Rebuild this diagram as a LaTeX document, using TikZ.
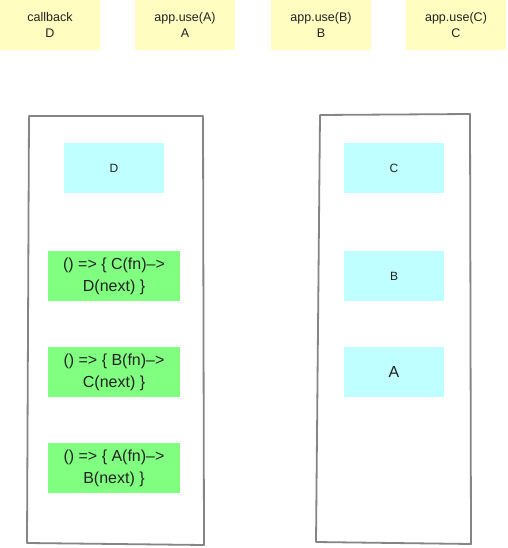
\documentclass[tikz,border=0pt]{standalone}
\usepackage{fontspec}
\setmainfont{Liberation Sans}
\definecolor{ylw}{HTML}{FFFEC0}
\definecolor{cyn}{HTML}{C0FFFF}
\definecolor{grn}{HTML}{80FF80}
\definecolor{frame}{HTML}{858585}
\definecolor{txt}{HTML}{222222}
\begin{document}
\begin{tikzpicture}[x=1pt,y=-1pt,
  topbox/.style={fill=ylw,draw=none,minimum width=100pt,minimum height=50pt,inner sep=0pt,align=center,
    font=\fontsize{12.5}{16}\selectfont,text=txt},
  cbox/.style={fill=cyn,draw=none,minimum width=100pt,minimum height=50pt,inner sep=0pt,align=center,
    font=\fontsize{12}{13}\selectfont,text=txt},
  gbox/.style={fill=grn,draw=none,minimum width=132pt,minimum height=50pt,inner sep=0pt,align=center,
    font=\fontsize{16}{22}\selectfont,text=txt},
  sketch/.style={draw=frame,line width=1.8pt,line join=round}]
\useasboundingbox (0,0) rectangle (507,548);
\fill[white] (0,0) rectangle (507,548);
% top row
\node[topbox] (t1) at (50,25) {callback\\D};
\node[topbox] (t2) at (185,25) {app.use(A)\\A};
\node[topbox] (t3) at (321,25) {app.use(B)\\B};
\node[topbox] (t4) at (456,25) {app.use(C)\\C};
% containers
\coordinate (l1) at (29,116); \coordinate (l2) at (203,116);
\coordinate (l3) at (204,545); \coordinate (l4) at (27,543);
\draw[sketch] (l1) -- (l2) -- (l3) -- (l4) -- cycle;
\coordinate (r1) at (320,115); \coordinate (r2) at (470,114);
\coordinate (r3) at (471,544); \coordinate (r4) at (316,542);
\draw[sketch] (r1) -- (r2) -- (r3) -- (r4) -- cycle;
% left stack
\node[cbox] (d) at (114,168) {D};
\node[gbox] (g1) at (114,276) {() => \{ C(fn)–>\\D(next) \}};
\node[gbox] (g2) at (114,372) {() => \{ B(fn)–>\\C(next) \}};
\node[gbox] (g3) at (114,468) {() => \{ A(fn)–>\\B(next) \}};
% right stack
\node[cbox] (c) at (394,168) {C};
\node[cbox] (b) at (394,276) {B};
\node[cbox,font=\fontsize{16}{16}\selectfont] (a) at (394,372) {A};
\end{tikzpicture}
\end{document}
